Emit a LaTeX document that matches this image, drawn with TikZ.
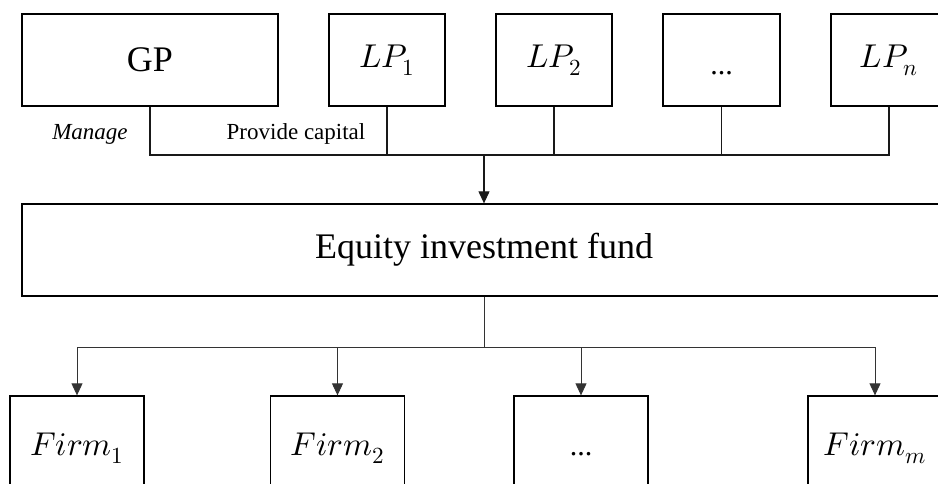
\documentclass[tikz,border=0pt]{standalone}
\usepackage{fontspec}
\usepackage{unicode-math}
\setmainfont{Liberation Serif}
\setmathfont{Latin Modern Math}
\usetikzlibrary{arrows.meta}
\tikzset{
  box/.style={draw=black, line width=1.3pt, inner sep=0pt, fill=white},
  topbox/.style={box, minimum height=92pt},
  firmbox/.style={box, minimum width=134pt, minimum height=104pt},
  conn/.style={draw=black!90, line width=1.1pt},
  thinconn/.style={draw=black!80, line width=0.9pt},
  arr/.style={-{Triangle[width=11pt,length=12pt]}},
  big/.style={font=\fontsize{36}{40}\selectfont},
  mth/.style={font=\fontsize{33}{40}\selectfont},
  dots/.style={font=\fontsize{30}{34}\selectfont},
  lbl/.style={font=\fontsize{23}{26}\selectfont, inner sep=0pt}
}
\begin{document}
\begin{tikzpicture}[x=1pt,y=-1pt]
\path[use as bounding box, clip] (0,0) rectangle (938,483);
\fill[white] (0,0) rectangle (938,483);
% top row
\node[topbox, minimum width=256pt, big] (GP) at (150,60) {GP};
\node[topbox, minimum width=116pt, mth] (LP1) at (387,60) {$LP_1$};
\node[topbox, minimum width=116pt, mth] (LP2) at (554,60) {$LP_2$};
\node[topbox, minimum width=117pt, dots] (LPd) at (721.5,60) {\smash{\raisebox{-14pt}{...}}};
\node[topbox, minimum width=116pt, mth] (LPn) at (889,60) {$LP_n$};
% labels
\node[lbl, font=\fontsize{23}{26}\selectfont\itshape] (manage) at (90,134) {Manage};
\node[lbl] (provide) at (296,134) {Provide capital};
% fund
\node[box, minimum width=924pt, minimum height=92pt, big] (fund) at (484,250) {Equity investment fund};
% firms
\node[firmbox, mth] (F1) at (77,448) {$Firm_1$};
\node[firmbox, mth] (F2) at (337.5,448) {$Firm_2$};
\node[firmbox, dots] (Fd) at (581,448) {\smash{\raisebox{-7pt}{...}}};
\node[firmbox, mth] (Fm) at (875,448) {$Firm_m$};
% top bus
\coordinate (busL) at (150,155);
\coordinate (busR) at (889,155);
\draw[conn] (GP.south) -- (busL) -- (busR) -- (LPn.south);
\draw[conn] (LP1.south) -- (LP1.south |- busL);
\draw[conn] (LP2.south) -- (LP2.south |- busL);
\draw[conn] (LPd.south) -- (LPd.south |- busL);
\draw[conn, arr] (fund.north |- busL) -- (fund.north);
% bottom bus
\coordinate (bbL) at (77,347);
\coordinate (bbR) at (875,347);
\draw[thinconn] (fund.south) -- (fund.south |- bbL);
\draw[thinconn] (bbL) -- (bbR);
\draw[thinconn, arr] (bbL) -- (F1.north);
\draw[thinconn, arr] (F2.north |- bbL) -- (F2.north);
\draw[thinconn, arr] (Fd.north |- bbL) -- (Fd.north);
\draw[thinconn, arr] (bbR) -- (Fm.north);
\end{tikzpicture}
\end{document}
